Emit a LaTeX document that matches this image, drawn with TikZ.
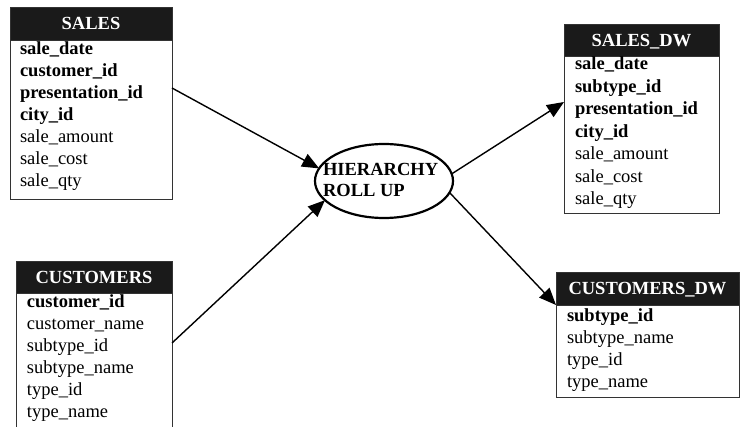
\documentclass[tikz,border=0pt]{standalone}
\usepackage{fontspec}
\setmainfont{Liberation Serif}
\usetikzlibrary{arrows.meta,shapes.geometric}
\definecolor{headblack}{HTML}{1A1A1A}
\definecolor{rule}{HTML}{333333}
\begin{document}
\begin{tikzpicture}[x=1pt,y=-1pt,
  txt/.style={font=\fontsize{18.5}{21}\selectfont},
  every node/.style={txt, inner sep=0pt, outer sep=0pt},
  head/.style={fill=headblack, draw=rule, line width=0.9pt, text=white,
    font=\fontsize{18.5}{21}\selectfont\bfseries, anchor=north west,
    text height=13pt, text depth=0pt},
  body/.style={draw=rule, line width=0.9pt, fill=white, anchor=north west},
  field/.style={anchor=base west},
  key/.style={field, font=\fontsize{18.5}{21}\selectfont\bfseries},
  flow/.style={line width=1.4pt, -{Triangle[length=17pt,width=14pt]}},
]
\useasboundingbox (0,0) rectangle (740,427);

% ---------- SALES ----------
\node[head, minimum width=162, minimum height=33] (salesh) at (10,7) {SALES};
\node[body, minimum width=162, minimum height=159] (salesb) at (10,40) {};
\foreach \s/\t [count=\i] in {key/sale\_date, key/customer\_id,
    key/presentation\_id, key/city\_id, field/sale\_amount,
    field/sale\_cost, field/sale\_qty}
  \node[\s] (sales-\i) at (20,{55+22*(\i-1)}) {\t};

% ---------- CUSTOMERS ----------
\node[head, minimum width=156, minimum height=32] (custh) at (16,261) {CUSTOMERS};
\node[body, minimum width=156, minimum height=150] (custb) at (16,293) {};
\foreach \s/\t [count=\i] in {key/customer\_id, field/customer\_name,
    field/subtype\_id, field/subtype\_name, field/type\_id, field/type\_name}
  \node[\s] (cust-\i) at (27,{308+22*(\i-1)}) {\t};

% ---------- SALES_DW ----------
\node[head, minimum width=155, minimum height=32] (sdwh) at (564,24) {SALES\_DW};
\node[body, minimum width=155, minimum height=157] (sdwb) at (564,56) {};
\foreach \s/\t [count=\i] in {key/sale\_date, key/subtype\_id,
    key/presentation\_id, key/city\_id, field/sale\_amount,
    field/sale\_cost, field/sale\_qty}
  \node[\s] (sdw-\i) at (575,{70+22.5*(\i-1)}) {\t};

% ---------- CUSTOMERS_DW ----------
\node[head, minimum width=183, minimum height=33] (cdwh) at (556,272) {CUSTOMERS\_DW};
\node[body, minimum width=183, minimum height=92] (cdwb) at (556,305) {};
\foreach \s/\t [count=\i] in {key/subtype\_id, field/subtype\_name,
    field/type\_id, field/type\_name}
  \node[\s] (cdw-\i) at (567,{322+22*(\i-1)}) {\t};

% ---------- process ----------
\node[draw, ellipse, line width=2.2pt, minimum width=138, minimum height=74]
  (roll) at (384,181) {};
\node[align=left, anchor=west, font=\fontsize{18.5}{21}\selectfont\bfseries]
  (rolltext) at (323,180) {HIERARCHY\\ROLL UP};

% ---------- flows ----------
\draw[flow] ([yshift=-48pt]salesb.north east) -- (roll.169);
\draw[flow] ([yshift=-50pt]custb.north east) -- (roll.198);
\draw[flow] (roll.6) -- ([yshift=-46pt]sdwb.north west);
\draw[flow] (roll.350) -- (cdwb.north west);
\end{tikzpicture}
\end{document}
